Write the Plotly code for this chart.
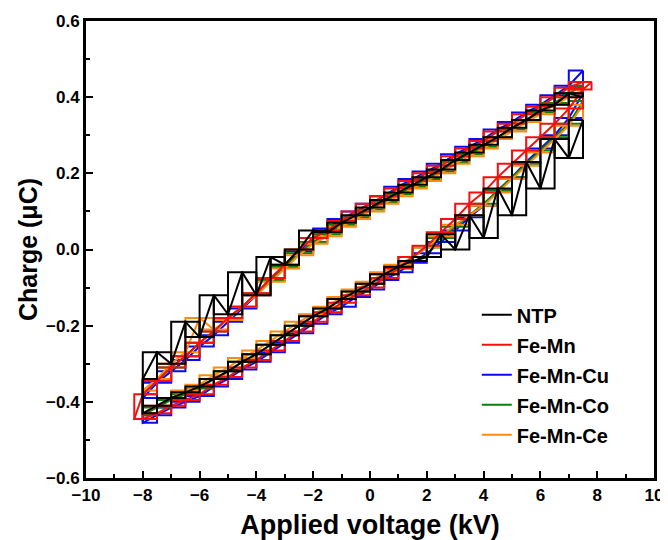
import plotly.graph_objects as go

# Applied voltage (kV) along one cycle: decreasing branch then increasing branch
V_LOOP = [7.5, 7.0, 6.5, 6.0, 5.5, 5.0, 4.5, 4.0, 3.5, 3.0, 2.5, 2.0, 1.5, 1.0, 0.5, 0.0,
          -0.5, -1.0, -1.5, -2.0, -2.5, -3.0, -3.5, -4.0, -4.5, -5.0, -5.5, -6.0, -6.5, -7.0, -7.5, -8.0,
          -8.0, -7.5, -7.0, -6.5, -6.0, -5.5, -5.0, -4.5, -4.0, -3.5, -3.0, -2.5, -2.0, -1.5, -1.0, -0.5,
          0.0, 0.5, 1.0, 1.5, 2.0, 2.5, 3.0, 3.5, 4.0, 4.5, 5.0, 5.5, 6.0, 6.5, 7.0, 7.5]

# Fe-Mn has slightly wider voltage tips
V_FE_MN = [7.8] + V_LOOP[:32] + [-8.3] + V_LOOP[32:] + [7.8]

# Charge (uC)
q_ntp = [0.40, 0.41, 0.38, 0.365, 0.34, 0.32, 0.295, 0.275, 0.255, 0.235, 0.21, 0.19, 0.17, 0.15, 0.13, 0.11,
         0.09, 0.07, 0.045, 0.05, 0.0, -0.04, -0.02, -0.12, -0.06, -0.17, -0.12, -0.23, -0.19, -0.30, -0.27, -0.34,
         -0.43, -0.41, -0.39, -0.375, -0.36, -0.34, -0.32, -0.295, -0.275, -0.25, -0.225, -0.2, -0.175, -0.155, -0.13, -0.11,
         -0.09, -0.065, -0.045, -0.03, -0.02, 0.04, 0.0, 0.09, 0.03, 0.16, 0.09, 0.23, 0.16, 0.29, 0.24, 0.34]

q_fe_mn = [0.44, 0.44, 0.425, 0.40, 0.375, 0.355, 0.33, 0.31, 0.285, 0.265, 0.245, 0.22, 0.2, 0.18, 0.16, 0.14, 0.12,
           0.1, 0.075, 0.05, 0.03, 0.0, -0.04, -0.075, -0.115, -0.15, -0.18, -0.215, -0.245, -0.28, -0.31, -0.345, -0.38,
           -0.445,
           -0.445, -0.43, -0.41, -0.395, -0.38, -0.355, -0.335, -0.31, -0.29, -0.265, -0.24, -0.215, -0.19, -0.165, -0.14, -0.12,
           -0.1, -0.075, -0.05, -0.02, 0.01, 0.045, 0.08, 0.12, 0.15, 0.19, 0.225, 0.26, 0.295, 0.33, 0.37, 0.42, 0.44]

q_fe_mn_cu = [0.47, 0.43, 0.405, 0.38, 0.36, 0.335, 0.315, 0.29, 0.27, 0.25, 0.225, 0.205, 0.185, 0.165, 0.14, 0.12,
              0.10, 0.08, 0.055, 0.03, -0.005, -0.045, -0.08, -0.12, -0.155, -0.19, -0.225, -0.255, -0.29, -0.32, -0.35, -0.39,
              -0.455, -0.435, -0.415, -0.40, -0.385, -0.36, -0.34, -0.315, -0.295, -0.27, -0.245, -0.22, -0.195, -0.17, -0.15, -0.125,
              -0.105, -0.08, -0.06, -0.035, -0.01, 0.02, 0.05, 0.085, 0.115, 0.155, 0.19, 0.23, 0.265, 0.30, 0.345, 0.41]

q_fe_mn_co = [0.43, 0.41, 0.385, 0.36, 0.34, 0.315, 0.295, 0.27, 0.25, 0.23, 0.205, 0.185, 0.165, 0.145, 0.125, 0.105,
              0.085, 0.065, 0.04, 0.02, -0.01, -0.045, -0.08, -0.115, -0.15, -0.18, -0.215, -0.245, -0.28, -0.31, -0.345, -0.38,
              -0.435, -0.415, -0.395, -0.38, -0.365, -0.34, -0.32, -0.295, -0.275, -0.25, -0.225, -0.2, -0.175, -0.155, -0.13, -0.11,
              -0.09, -0.065, -0.045, -0.02, 0.005, 0.03, 0.06, 0.09, 0.12, 0.155, 0.19, 0.225, 0.26, 0.295, 0.33, 0.39]

q_fe_mn_ce = [0.42, 0.40, 0.38, 0.355, 0.335, 0.31, 0.29, 0.265, 0.245, 0.225, 0.2, 0.18, 0.16, 0.14, 0.12, 0.10,
              0.08, 0.06, 0.035, 0.015, -0.015, -0.05, -0.085, -0.12, -0.15, -0.185, -0.21, -0.18, -0.27, -0.30, -0.34, -0.37,
              -0.43, -0.41, -0.39, -0.37, -0.355, -0.33, -0.31, -0.285, -0.265, -0.24, -0.215, -0.19, -0.17, -0.15, -0.125, -0.105,
              -0.085, -0.06, -0.04, -0.02, 0.005, 0.035, 0.065, 0.09, 0.115, 0.15, 0.185, 0.22, 0.255, 0.29, 0.325, 0.38]

series = [
    # name, v, q, color, legend rank (draw order: first = bottom)
    ("Fe-Mn-Cu", V_LOOP, q_fe_mn_cu, "#0a0af0", 3),
    ("Fe-Mn-Co", V_LOOP, q_fe_mn_co, "#0a800a", 4),
    ("Fe-Mn-Ce", V_LOOP, q_fe_mn_ce, "#ff8a10", 5),
    ("Fe-Mn", V_FE_MN, q_fe_mn, "#f51010", 2),
    ("NTP", V_LOOP, q_ntp, "#000000", 1),
]

fig = go.Figure()
for name, v, q, color, rank in series:
    for i, shape in enumerate(["hv", "vh", "linear"]):
        fig.add_trace(go.Scatter(
            x=v, y=q, mode="lines", name=name,
            line=dict(color=color, width=2, shape=shape),
            legendgroup=name, showlegend=(i == 0), legendrank=rank,
            hoverinfo="skip",
        ))

font_family = "Liberation Sans, Arial, sans-serif"
fig.update_layout(
    width=660, height=532,
    margin=dict(l=78, r=14, t=13, b=62),
    paper_bgcolor="white", plot_bgcolor="white",
    font=dict(family=font_family, color="black"),
    showlegend=True,
    legend=dict(
        x=0.688, y=0.40, xanchor="left", yanchor="top",
        bgcolor="rgba(0,0,0,0)", borderwidth=0,
        font=dict(size=20, family=font_family, weight="bold"),
        tracegroupgap=1, itemwidth=30,
    ),
)
fig.update_xaxes(
    range=[-10, 10], dtick=2, tick0=-10, automargin=False,
    showline=True, linecolor="black", linewidth=3, mirror=True,
    ticks="inside", ticklen=7, tickwidth=2, tickcolor="black",
    minor=dict(ticks="inside", ticklen=4, tickwidth=2, dtick=1, tickcolor="black"),
    showgrid=False, zeroline=False,
    tickfont=dict(size=17, family=font_family, weight="bold"),
    title=dict(text="Applied voltage (kV)", font=dict(size=27, family=font_family, weight="bold"), standoff=12),
)
fig.update_yaxes(
    range=[-0.6, 0.6], dtick=0.2, tick0=-0.6, tickformat=".1f", automargin=False,
    showline=True, linecolor="black", linewidth=3, mirror=True,
    ticks="inside", ticklen=7, tickwidth=2, tickcolor="black",
    minor=dict(ticks="inside", ticklen=4, tickwidth=2, dtick=0.1, tickcolor="black"),
    showgrid=False, zeroline=False,
    tickfont=dict(size=17, family=font_family, weight="bold"),
    title=dict(text="Charge (μC)", font=dict(size=25, family=font_family, weight="bold"), standoff=2),
)

fig.write_html("out.html")
